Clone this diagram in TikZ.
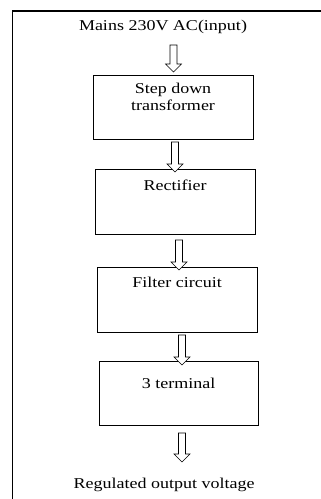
\documentclass[tikz,border=0pt]{standalone}
\usepackage{fontspec}
\setmainfont[FakeStretch=1.2]{Liberation Serif}
\usetikzlibrary{calc}

\begin{document}
\begin{tikzpicture}[x=1pt, y=-1pt, font=\fontsize{15}{17}\selectfont,
        box/.style={draw, line width=0.7pt, minimum width=160pt, minimum height=64pt},
        harrow/.style={line width=0.6pt, to path={let \p1=(\tikztostart), \p2=(\tikztotarget) in
            (\x1-3.5pt,\y1) -- (\x1-3.5pt,\y2+8pt) -- (\x1-8pt,\y2+8pt) -- (\x1,\y2)
            -- (\x1+8pt,\y2+8pt) -- (\x1+3.5pt,\y2+8pt) -- (\x1+3.5pt,\y1) -- cycle}}]
        \useasboundingbox (0,0) rectangle (321,499);
        \draw[line width=1.5pt] (321,11) -- (12.5,11) -- (12.5,499);

        \node (mains) at (163,27) {Mains 230V AC(input)};
        \node[box] (trans) at (173,107) {};
        \node[align=center] (transtxt) at (173,97) {Step down\\transformer};
        \node[box, minimum height=65pt] (rect) at (175,201.5) {};
        \node (recttxt) at (175,185) {Rectifier};
        \node[box, minimum height=65pt] (filt) at (177,299.5) {};
        \node (filttxt) at (177,282) {Filter circuit};
        \node[box, minimum width=159pt] (reg) at (178.5,393) {};
        \node (regtxt) at (178.5,383) {3 terminal};
        \node (out) at (164,485) {Regulated output voltage};

        \coordinate (s1) at (173.5,45);  \coordinate (e1) at (173.5,72);
        \coordinate (s2) at (175,142);   \coordinate (e2) at (175,172);
        \coordinate (s3) at (179,240);   \coordinate (e3) at (179,270);
        \coordinate (s4) at (182,335);   \coordinate (e4) at (182,365);
        \coordinate (s5) at (182,433);   \coordinate (e5) at (182,462);
        \foreach \i in {1,...,5}
            \draw[harrow, fill=white] (s\i) to (e\i);
\end{tikzpicture}
\end{document}
